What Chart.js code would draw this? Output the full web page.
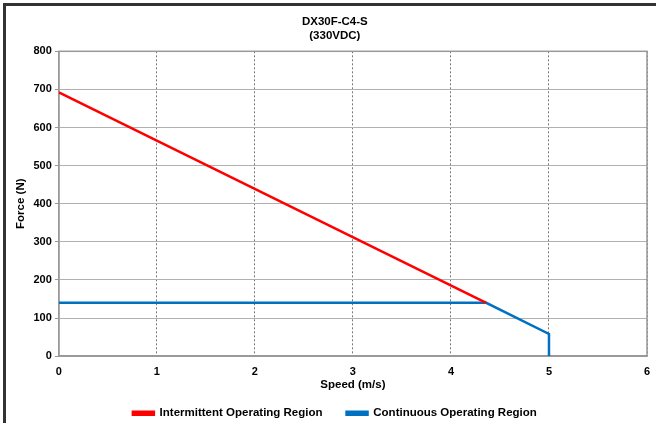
<!DOCTYPE html>
<html>
<head>
<meta charset="utf-8">
<script src="https://cdn.jsdelivr.net/npm/chart.js@4.4.1/dist/chart.umd.min.js"></script>
<style>
  html, body { margin: 0; padding: 0; background: #fff; }
  #wrap { width: 656px; height: 423px; position: relative; }
</style>
</head>
<body>
<div id="wrap"><canvas id="forceChart" width="656" height="423"></canvas></div>
<script>
// speed (m/s) / force (N) pairs
const intermittentSpeed = [0, 4.36];
const intermittentForce = [692, 140];
const continuousSpeed = [0, 4.36, 5, 5];
const continuousForce = [140, 140, 58, 0];
const xTicks = [0, 1, 2, 3, 4, 5, 6];
const yTicks = [0, 100, 200, 300, 400, 500, 600, 700, 800];

const toPoints = (xs, ys) => xs.map((x, i) => ({ x: x, y: ys[i] }));

const labelFont = { family: '"Liberation Sans", Arial, sans-serif', size: 11.5, weight: 'bold' };

Chart.defaults.font.family = '"Liberation Sans", Arial, sans-serif';
Chart.defaults.font.weight = 'bold';
Chart.defaults.font.size = 11;
Chart.defaults.color = '#000';

// outer frame + plot border
const framePlugin = {
    id: 'frame',
    beforeDraw(chart) {
        const c = chart.ctx;
        c.save();
        c.fillStyle = '#fff';
        c.fillRect(0, 0, chart.width, chart.height);
        c.fillStyle = '#333';
        c.fillRect(3, 3, chart.width - 3, 3);
        c.fillRect(3, 3, 3, chart.height - 3);
        c.restore();
    },
    beforeDatasetsDraw(chart) {
        const a = chart.chartArea;
        const c = chart.ctx;
        c.save();
        c.strokeStyle = '#999';
        c.lineWidth = 1.5;
        c.strokeRect(a.left, a.top, a.right - a.left, a.bottom - a.top);
        c.restore();
    }
};

new Chart(document.getElementById('forceChart').getContext('2d'), {
    type: 'scatter',
    data: {
        datasets: [
            {
                label: 'Intermittent Operating Region',
                data: toPoints(intermittentSpeed, intermittentForce),
                showLine: true,
                borderColor: '#ff0000',
                backgroundColor: '#ff0000',
                borderWidth: 2.5,
                pointRadius: 0,
            },
            {
                label: 'Continuous Operating Region',
                data: toPoints(continuousSpeed, continuousForce),
                showLine: true,
                borderColor: '#0070c0',
                backgroundColor: '#0070c0',
                borderWidth: 2.5,
                pointRadius: 0,
            }
        ],
    },
    options: {
        responsive: false,
        animation: false,
        layout: {
            padding: { left: 13.7, right: 0, top: 4, bottom: -6 },
        },
        plugins: {
            title: {
                display: true,
                text: ['DX30F-C4-S', '(330VDC)'],
                font: labelFont,
                padding: { top: 11, bottom: 8.7 },
                lineHeight: 1.1,
            },
            legend: {
                position: 'bottom',
                labels: {
                    boxWidth: 21,
                    boxHeight: 3,
                    padding: 24,
                    font: labelFont,
                },
            },
            tooltip: { enabled: false },
        },
        scales: {
            x: {
                type: 'linear',
                min: 0,
                max: 6,
                afterBuildTicks: (axis) => { axis.ticks = xTicks.map(v => ({ value: v })); },
                afterFit: (axis) => { axis.paddingRight = 9; },
                ticks: { padding: 9 },
                grid: {
                    color: '#555',
                    lineWidth: 0.8,
                    drawTicks: false,
                },
                border: { display: true, color: '#999', width: 1.5, dash: [2, 2] },
                title: {
                    display: true,
                    text: 'Speed (m/s)',
                    font: labelFont,
                    padding: { top: -9.1, bottom: -8.5 },
                },
            },
            y: {
                min: 0,
                max: 800,
                afterBuildTicks: (axis) => { axis.ticks = yTicks.map(v => ({ value: v })); },
                ticks: { padding: 3 },
                grid: {
                    color: '#b0b0b0',
                    lineWidth: 1,
                    tickLength: 4,
                    tickColor: '#999',
                },
                border: { display: true, color: '#999', width: 1.5 },
                title: {
                    display: true,
                    text: 'Force (N)',
                    font: labelFont,
                    padding: { top: 0, bottom: 3 },
                },
            },
        },
    },
    plugins: [framePlugin],
});

// dashed vertical grid
const chart = Chart.getChart('forceChart');
chart.options.scales.x.grid.borderDash = [2, 2];
chart.update();
</script>
</body>
</html>
